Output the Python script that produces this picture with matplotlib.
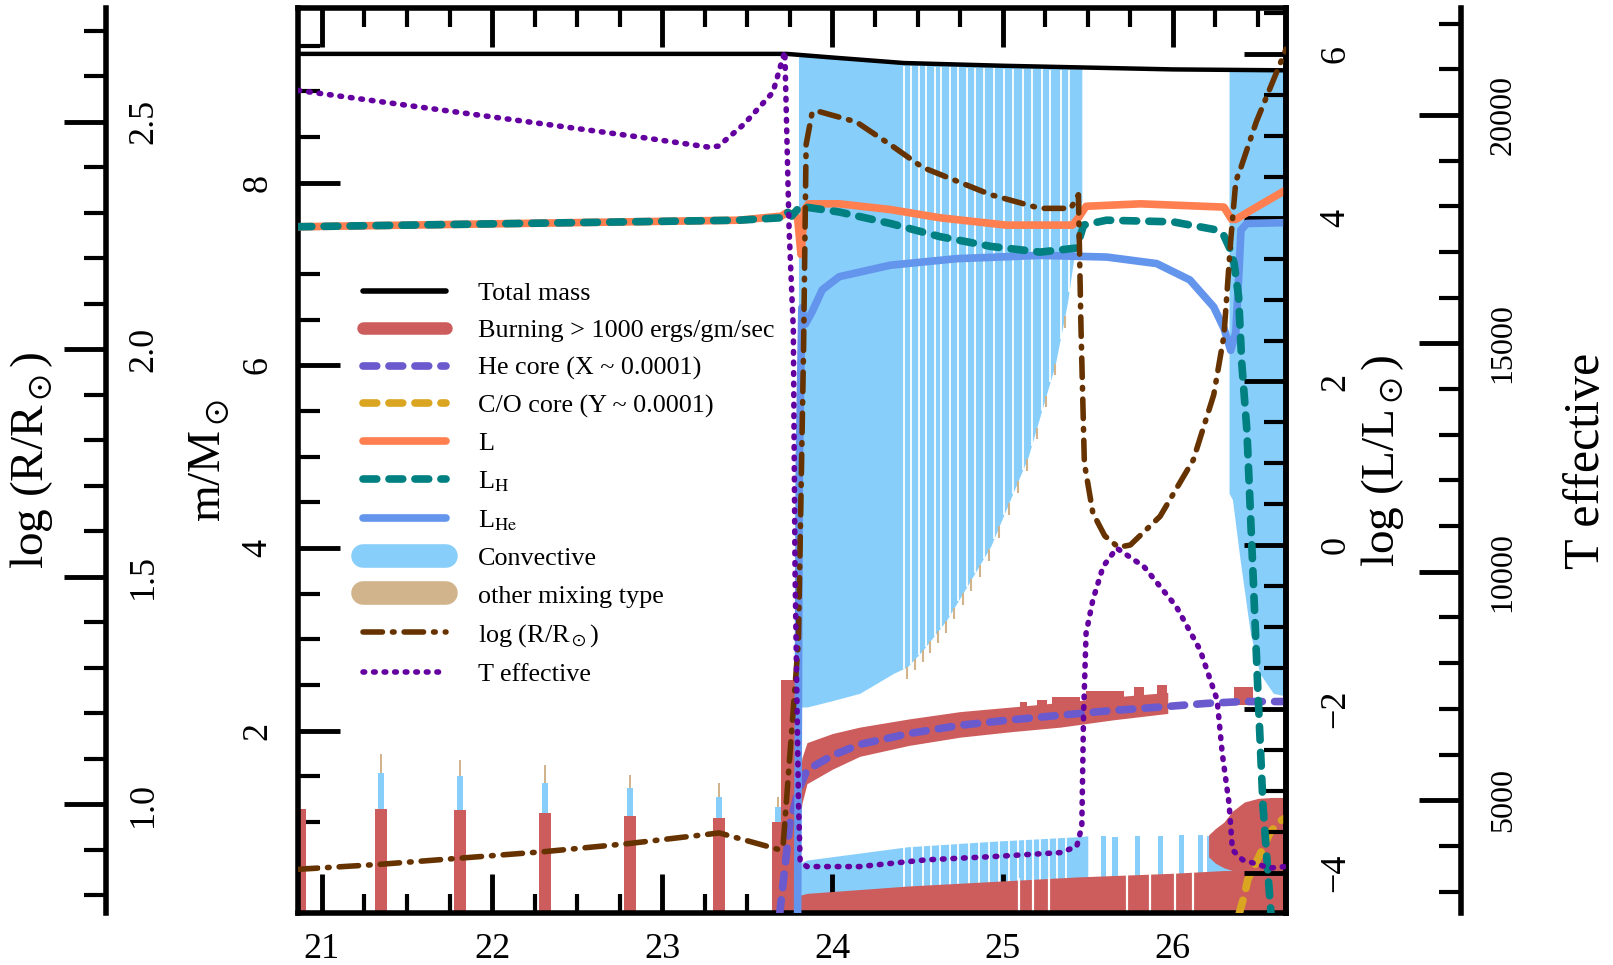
import numpy as np
import matplotlib.pyplot as plt
from matplotlib.lines import Line2D
from matplotlib.ticker import MultipleLocator, FormatStrFormatter

plt.rcParams['font.family'] = ['Liberation Serif', 'DejaVu Serif']
plt.rcParams['mathtext.fontset'] = 'stix'

# ---- data ----
# total mass (m/Msun)
mass_x = [20.86, 23.73, 24.0, 24.42, 25.0, 25.5, 26.0, 26.665]
mass_m = [9.41, 9.41, 9.37, 9.31, 9.28, 9.26, 9.24, 9.23]

# convective envelope (lower boundary) and the model gaps inside it
env_x = [23.80, 23.85, 24.00, 24.16, 24.36, 24.44, 24.53, 24.67, 24.79, 24.93,
         25.06, 25.15, 25.23, 25.31, 25.38, 25.42, 25.465]
env_bot = [2.26, 2.26, 2.33, 2.41, 2.63, 2.70, 2.88, 3.21, 3.58, 4.02,
           4.60, 5.00, 5.51, 6.02, 6.68, 7.2, 7.8]
env_gaps = [24.42, 24.46, 24.51, 24.55, 24.60, 24.64, 24.69, 24.74, 24.79, 24.84,
            24.89, 24.95, 25.01, 25.06, 25.12, 25.17, 25.23, 25.28, 25.34, 25.39]

# second (late) convective envelope
rc_x = [26.33, 26.35, 26.395, 26.455, 26.51, 26.59, 26.665]
rc_bot = [4.6, 4.53, 3.87, 3.07, 2.63, 2.41, 2.38]

# lower convective zone
low_x = [23.81, 23.85, 24.44, 24.94, 25.44, 25.50]
low_top = [0.55, 0.585, 0.73, 0.79, 0.84, 0.85]
low_gaps = [24.42, 24.47, 24.53, 24.58, 24.63, 24.69, 24.74, 24.80, 24.86, 24.92,
            24.98, 25.04, 25.09, 25.13, 25.18, 25.22, 25.27, 25.32, 25.37]
low_col_x = [25.59, 25.66, 25.79, 25.925, 26.05, 26.16]
low_col_top = [0.85, 0.84, 0.85, 0.85, 0.86, 0.86]
low_blk_x = [26.20, 26.43]
low_blk_top = [0.85, 0.85]

# early burning / mixing spikes
spike_x = [20.87, 21.345, 21.81, 22.31, 22.81, 23.335, 23.68]
spike_burn = [1.14, 1.14, 1.13, 1.10, 1.07, 1.05, 1.0]
spike_conv = [1.14, 1.54, 1.50, 1.43, 1.37, 1.28, 1.17]
spike_mix = [1.14, 1.75, 1.68, 1.62, 1.52, 1.43, 1.28]
tall_burn_x = 23.70
tall_burn_top = 2.56

# burning shell along the He core
band_x = [23.80, 23.82, 23.85, 24.00, 24.16, 24.45, 24.75, 25.05, 25.34, 25.65, 25.97]
band_top = [1.30, 1.70, 1.87, 1.97, 2.04, 2.13, 2.21, 2.26, 2.31, 2.37, 2.42]
band_bot = [0.90, 1.20, 1.42, 1.58, 1.72, 1.84, 1.93, 1.99, 2.04, 2.12, 2.19]
tip_x0 = [25.10, 25.20, 25.29, 25.49, 25.77, 25.905, 26.36]
tip_x1 = [25.14, 25.26, 25.455, 25.71, 25.83, 25.965, 26.47]
tip_top = [2.32, 2.34, 2.37, 2.43, 2.48, 2.50, 2.48]
tip_bot = [2.1, 2.1, 2.1, 2.15, 2.2, 2.2, 2.28]

# central burning
bot_x = [23.81, 23.85, 24.44, 24.94, 25.44, 26.0, 26.3, 26.665]
bot_top = [0.20, 0.22, 0.30, 0.35, 0.40, 0.44, 0.47, 0.47]
bot_gaps = [25.093, 25.18, 25.27, 25.73, 25.865, 26.01, 26.12]
blob_x = [26.21, 26.25, 26.30, 26.35, 26.42, 26.50, 26.58, 26.665]
blob_bot = [0.62, 0.55, 0.50, 0.47, 0.47, 0.47, 0.47, 0.47]
blob_top = [0.86, 0.93, 1.00, 1.12, 1.22, 1.26, 1.27, 1.27]

# cores
he_x = [23.69, 23.72, 23.75, 23.78, 23.80, 23.85, 24.0, 24.16, 24.45, 24.75,
        25.05, 25.34, 25.63, 25.925, 26.2, 26.41, 26.665]
he_m = [0.0, 0.5, 0.99, 1.2, 1.35, 1.57, 1.73, 1.85, 1.97, 2.06,
        2.12, 2.17, 2.22, 2.26, 2.30, 2.32, 2.32]
co_x = [26.39, 26.42, 26.44, 26.50, 26.57, 26.62, 26.665]
co_m = [0.0, 0.2, 0.37, 0.6, 0.88, 1.0, 1.05]

# luminosities (log L/Lsun)
L_x = [20.86, 23.45, 23.70, 23.73, 23.76, 23.795, 23.815, 23.835, 23.86, 24.04,
       24.34, 24.63, 25.02, 25.41, 25.445, 25.49, 25.81, 26.30, 26.345, 26.37, 26.45, 26.665]
L_val = [3.89, 3.97, 4.02, 4.06, 4.05, 4.0, 3.55, 4.1, 4.17, 4.17,
         4.10, 4.0, 3.91, 3.91, 4.0, 4.14, 4.17, 4.13, 3.98, 3.98, 4.08, 4.34]
LH_x = [20.86, 23.45, 23.70, 23.73, 23.76, 23.81, 24.04, 24.34, 24.63, 24.93,
        25.22, 25.435, 25.475, 25.61, 26.0, 26.26, 26.30, 26.34, 26.36, 26.386,
        26.405, 26.435, 26.47, 26.50, 26.53, 26.58]
LH_val = [3.89, 3.97, 4.0, 4.08, 4.02, 4.14, 4.07, 3.93, 3.77, 3.65,
          3.58, 3.63, 3.91, 3.97, 3.95, 3.85, 3.78, 3.6, 3.44, 3.04,
          2.22, 1.4, -0.3, -1.8, -3.2, -4.6]
LHe_x = [23.795, 23.805, 23.82, 23.84, 23.88, 23.94, 24.04, 24.34, 24.73, 25.22,
         25.61, 25.905, 26.10, 26.24, 26.30, 26.34, 26.37, 26.39, 26.40, 26.435, 26.665]
LHe_val = [-4.6, 1.0, 2.9, 2.7, 2.85, 3.12, 3.28, 3.42, 3.50, 3.54,
           3.52, 3.44, 3.24, 2.91, 2.65, 2.38, 2.6, 3.4, 3.85, 3.93, 3.94]

# radius (log R/Rsun)
R_x = [20.86, 21.34, 22.31, 22.81, 23.335, 23.69, 23.71, 23.80, 23.83, 23.845,
       23.88, 23.91, 24.14, 24.34, 24.53, 24.73, 24.93, 25.22, 25.40, 25.445,
       25.46, 25.48, 25.53, 25.60, 25.68, 25.75, 25.925, 26.12, 26.24, 26.30,
       26.34, 26.37, 26.40, 26.49, 26.665]
R_val = [0.857, 0.868, 0.896, 0.914, 0.937, 0.90, 0.91, 1.36, 2.0, 2.45,
         2.52, 2.524, 2.50, 2.45, 2.40, 2.37, 2.34, 2.31, 2.31, 2.34,
         2.05, 1.75, 1.64, 1.59, 1.565, 1.57, 1.633, 1.757, 1.90, 2.03,
         2.24, 2.37, 2.40, 2.50, 2.66]

# effective temperature
T_x = [20.86, 22.01, 22.85, 23.27, 23.33, 23.48, 23.65, 23.72, 23.745, 23.77,
       23.78, 23.80, 23.81, 23.85, 24.16, 24.55, 24.945, 25.34, 25.435, 25.465,
       25.475, 25.49, 25.53, 25.59, 25.67, 25.83, 26.02, 26.16, 26.26, 26.29,
       26.33, 26.35, 26.41, 26.57, 26.665]
T_val = [20540, 19955, 19527, 19300, 19320, 19800, 20500, 21400, 17500, 15300,
         10000, 5000, 3650, 3547, 3547, 3694, 3766, 3853, 3986, 4423,
         6831, 8655, 9385, 10115, 10518, 10115, 9241, 8290, 7196, 6029,
         4932, 3912, 3694, 3514, 3550]

# ---- colours ----
c_conv = '#87CEFA'
c_mix = '#D2B48C'
c_burn = '#CD5C5C'
c_he = '#6A5ACD'
c_co = '#DAA520'
c_L = '#FF7F50'
c_LH = '#008080'
c_LHe = '#6495ED'
c_R = '#663300'
c_T = '#6400A0'

dash_core = (0, (1.8, 1.6))
dash_R = (0, (3.5, 1.8, 0.3, 1.8))
dot_T = (0, (0.3, 1.6))

fig = plt.figure(figsize=(16.13, 9.65), dpi=100)
ax = fig.add_axes([0.1848, 0.0534, 0.6125, 0.9381])
ax.set_xlim(20.86, 26.665)
ax.set_ylim(0, 9.91)

# convective regions
env_top = np.interp(env_x, mass_x, mass_m)
ax.fill_between(env_x, env_bot, env_top, color=c_conv, lw=0, zorder=1)
rc_top = np.interp(rc_x, mass_x, mass_m)
ax.fill_between(rc_x, rc_bot, rc_top, color=c_conv, lw=0, zorder=1)
ax.fill_between(low_x, 0, low_top, color=c_conv, lw=0, zorder=1)
ax.bar(low_col_x, low_col_top, width=0.03, color=c_conv, lw=0, zorder=1)
ax.fill_between(low_blk_x, 0, low_blk_top, color=c_conv, lw=0, zorder=1)

# gaps between models
g_bot = np.interp(env_gaps, env_x, env_bot)
g_top = np.interp(env_gaps, mass_x, mass_m)
ax.vlines(env_gaps, g_bot - 0.01, g_top - 0.03, color='white', lw=1.3, zorder=1.5)
lg_top = np.interp(low_gaps, low_x, low_top)
ax.vlines(low_gaps, 0, lg_top + 0.01, color='white', lw=1.3, zorder=1.5)

# other mixing stubs below the convective fingers
stub_x = 0.5 * (np.array(env_gaps[:-1]) + np.array(env_gaps[1:]))
stub_b = np.interp(stub_x, env_x, env_bot)
ax.vlines(stub_x, stub_b - 0.13, stub_b, color=c_mix, lw=1.5, zorder=1.4)

# early spikes
ax.bar(spike_x, spike_mix, width=0.012, color=c_mix, lw=0, zorder=1.6)
ax.bar(spike_x, spike_conv, width=0.035, color=c_conv, lw=0, zorder=1.7)
ax.bar(spike_x, spike_burn, width=0.07, color=c_burn, lw=0, zorder=2)
ax.bar(tall_burn_x, tall_burn_top, width=0.085, align='edge', color=c_burn, lw=0, zorder=2)

# burning regions
ax.fill_between(band_x, band_bot, band_top, color=c_burn, lw=0, zorder=2)
for x0, x1, b, t in zip(tip_x0, tip_x1, tip_bot, tip_top):
    ax.fill_between([x0, x1], b, t, color=c_burn, lw=0, zorder=2)
ax.fill_between(bot_x, 0, bot_top, color=c_burn, lw=0, zorder=2)
ax.fill_between(blob_x, blob_bot, blob_top, color=c_burn, lw=0, zorder=2)
bg_top = np.interp(bot_gaps, bot_x, bot_top)
ax.vlines(bot_gaps, 0, bg_top + 0.02, color='white', lw=1.6, zorder=2.5)

# cores and total mass
ax.plot(he_x, he_m, color=c_he, lw=5.5, ls=dash_core, dash_capstyle='round', zorder=3)
ax.plot(co_x, co_m, color=c_co, lw=5.5, ls=dash_core, dash_capstyle='round', zorder=3)
ax.plot(mass_x, mass_m, color='black', lw=3.2, zorder=3)

# luminosity axis
axL = ax.twinx()
axL.set_ylim(-4.5, 6.56)
axL.plot(L_x, L_val, color=c_L, lw=5.5, solid_capstyle='round')
axL.plot(LHe_x, LHe_val, color=c_LHe, lw=5.5, solid_capstyle='round')
axL.plot(LH_x, LH_val, color=c_LH, lw=5.5, ls=dash_core, dash_capstyle='round')

# radius axis (far left)
axR = ax.twinx()
axR.set_ylim(0.76, 2.75)
axR.plot(R_x, R_val, color=c_R, lw=4, ls=dash_R, dash_capstyle='round')
axR.spines['right'].set_position(('axes', -0.194))

# temperature axis (far right)
axT = ax.twinx()
axT.set_ylim(2520, 22340)
axT.plot(T_x, T_val, color=c_T, lw=4, ls=dot_T, dash_capstyle='round')
axT.spines['right'].set_position(('axes', 1.177))

# ---- spines and ticks ----
for a in (axL, axR, axT):
    for s in ('left', 'top', 'bottom'):
        a.spines[s].set_visible(False)
for a in (ax, axL, axR, axT):
    for s in a.spines.values():
        s.set_linewidth(4)

ax.set_xticks([21, 22, 23, 24, 25, 26])
ax.xaxis.set_minor_locator(MultipleLocator(0.25))
ax.tick_params(axis='x', which='both', direction='in', top=True, bottom=True,
               labelsize=26, pad=14)
ax.tick_params(axis='x', which='major', length=28, width=3.5)
ax.tick_params(axis='x', which='minor', length=14, width=3)

ax.set_yticks([2, 4, 6, 8])
ax.yaxis.set_minor_locator(MultipleLocator(0.5))
ax.tick_params(axis='y', which='both', direction='in', left=True, right=False,
               labelsize=26, labelrotation=90, pad=17)

axL.set_yticks([-4, -2, 0, 2, 4, 6])
axL.yaxis.set_minor_locator(MultipleLocator(0.5))
axL.tick_params(axis='y', which='both', direction='in', labelsize=26,
                labelrotation=90, pad=24)

axR.set_yticks([1.0, 1.5, 2.0, 2.5])
axR.yaxis.set_major_formatter(FormatStrFormatter('%.1f'))
axR.yaxis.set_minor_locator(MultipleLocator(0.1))
axR.tick_params(axis='y', which='both', direction='in', labelsize=26,
                labelrotation=90, pad=15)

axT.set_yticks([5000, 10000, 15000, 20000])
axT.yaxis.set_minor_locator(MultipleLocator(1000))
axT.tick_params(axis='y', which='both', direction='in', labelsize=23,
                labelrotation=90, pad=20)

for a in (ax, axL, axR, axT):
    a.tick_params(axis='y', which='major', length=30, width=3.5)
    a.tick_params(axis='y', which='minor', length=16, width=3)
    for t in a.get_yticklabels():
        t.set_verticalalignment('center')

# axis titles
ymid = 0.5225
fig.text(0.0198, ymid, 'log (R/R$_\\odot$)', rotation=90, ha='center', va='center', fontsize=34)
fig.text(0.130, ymid, 'm/M$_\\odot$', rotation=90, ha='center', va='center', fontsize=34)
fig.text(0.857, ymid, 'log (L/L$_\\odot$)', rotation=90, ha='center', va='center', fontsize=34)
fig.text(0.984, ymid, 'T effective', rotation=90, ha='center', va='center', fontsize=36)

# legend
handles = [
    Line2D([], [], color='black', lw=4, solid_capstyle='round'),
    Line2D([], [], color=c_burn, lw=9, solid_capstyle='round'),
    Line2D([], [], color=c_he, lw=5.5, ls=dash_core, dash_capstyle='round'),
    Line2D([], [], color=c_co, lw=5.5, ls=dash_core, dash_capstyle='round'),
    Line2D([], [], color=c_L, lw=5.5, solid_capstyle='round'),
    Line2D([], [], color=c_LH, lw=5.5, ls=dash_core, dash_capstyle='round'),
    Line2D([], [], color=c_LHe, lw=5.5, solid_capstyle='round'),
    Line2D([], [], color=c_conv, lw=17, solid_capstyle='round'),
    Line2D([], [], color=c_mix, lw=17, solid_capstyle='round'),
    Line2D([], [], color=c_R, lw=4, ls=dash_R, dash_capstyle='round'),
    Line2D([], [], color=c_T, lw=4, ls=dot_T, dash_capstyle='round'),
]
labels = ['Total mass', 'Burning > 1000 ergs/gm/sec', 'He core (X ~ 0.0001)',
          'C/O core (Y ~ 0.0001)', 'L', 'L$_\\mathrm{H}$', 'L$_\\mathrm{He}$',
          'Convective', 'other mixing type', 'log (R/R$_\\odot$)', 'T effective']
leg = axT.legend(handles, labels, loc='upper left', bbox_to_anchor=(0.2250, 0.7080),
                 bbox_transform=fig.transFigure, frameon=False, fontsize=18.8,
                 handlelength=3.2, handletextpad=1.2, labelspacing=0.54,
                 borderpad=0, borderaxespad=0)

fig.savefig('out.png', dpi=100)
